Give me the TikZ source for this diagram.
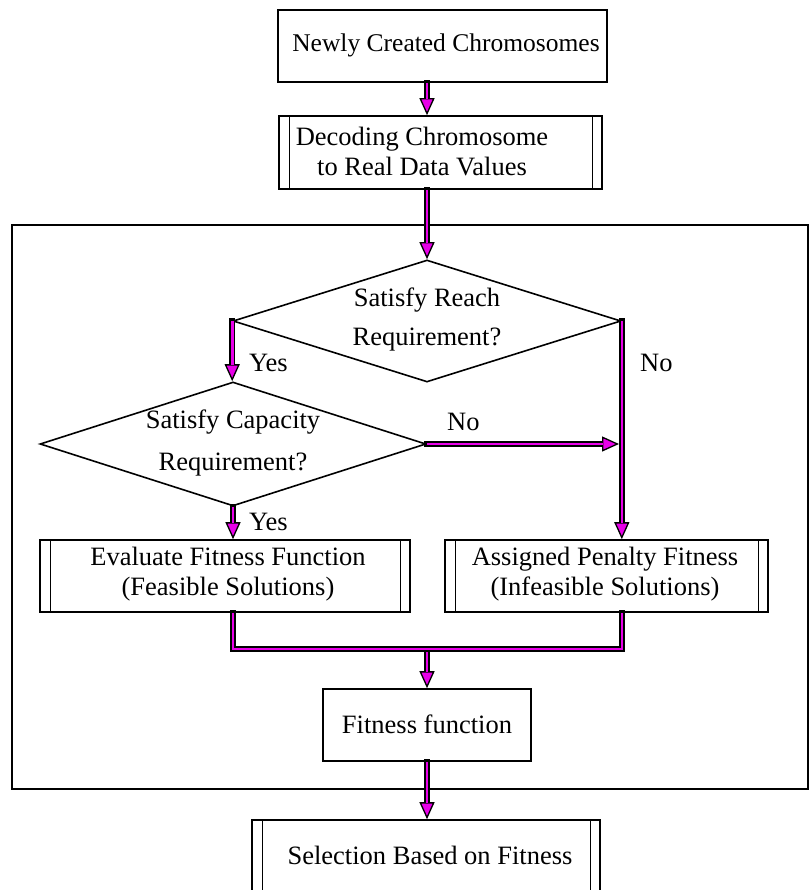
\documentclass[tikz,border=0pt]{standalone}
\usepackage{fontspec}
\setmainfont{Liberation Serif}
\usetikzlibrary{shapes.geometric,arrows.meta,calc}

\definecolor{pipefill}{RGB}{232,0,232}

\tikzset{
  lbl/.style={font=\fontsize{26.5}{30}\selectfont, align=center, inner sep=0pt},
  box/.style={draw, line width=1.6pt, rectangle, inner sep=0pt},
  procbox/.style={box, path picture={
      \draw[line width=0.9pt]
        ([xshift=10pt]path picture bounding box.north west) --
        ([xshift=10pt]path picture bounding box.south west)
        ([xshift=-10pt]path picture bounding box.north east) --
        ([xshift=-10pt]path picture bounding box.south east);}},
  decision/.style={draw, diamond, line width=1.6pt, inner sep=0pt},
  frame/.style={draw, line width=1.8pt, rectangle, inner sep=0pt},
  pipe/.style={draw=black, line width=5.6pt, line cap=rect,
    -{Triangle[length=17pt,width=15pt,line width=1.3pt,fill=pipefill]},
    postaction={draw=pipefill, line width=2.6pt, line cap=butt, -, shorten >=16pt}},
  pipeline/.style={draw=black, line width=5.6pt, line join=miter, line cap=rect,
    postaction={draw=pipefill, line width=2.6pt, line join=miter, line cap=butt}},
}

\begin{document}
\begin{tikzpicture}[x=1pt,y=-1pt]
\useasboundingbox (0,0) rectangle (810,890);
\clip (0,0) rectangle (810,890);

% outer frame around the evaluation stage
\node[frame, minimum width=796pt, minimum height=564pt] (frame) at (410,507) {};

% boxes
\node[box, minimum width=329pt, minimum height=72pt] (top) at (442.5,46) {};
\node[lbl, font=\fontsize{25.5}{30}\selectfont] (toptxt) at (446,45) {Newly Created Chromosomes};

\node[procbox, minimum width=323pt, minimum height=73pt] (dec) at (440.5,152.5) {};
\node[lbl] (dectxt) at (422,152) {Decoding Chromosome\\to Real Data Values};

\node[decision, minimum width=388pt, minimum height=122pt] (d1) at (427,321) {};
\node[lbl, font=\fontsize{26.5}{39}\selectfont] (d1txt) at (427,319) {Satisfy Reach\\Requirement?};

\node[decision, minimum width=386pt, minimum height=124pt] (d2) at (233,444) {};
\node[lbl, font=\fontsize{26.5}{42}\selectfont] (d2txt) at (233,443) {Satisfy Capacity\\Requirement?};

\node[procbox, minimum width=370pt, minimum height=72pt] (eval) at (225,576) {};
\node[lbl] (evaltxt) at (228,574) {Evaluate Fitness Function\\(Feasible Solutions)};

\node[procbox, minimum width=323pt, minimum height=72pt] (pen) at (606.5,576) {};
\node[lbl] (pentxt) at (605,574) {Assigned Penalty Fitness\\(Infeasible Solutions)};

\node[box, minimum width=208pt, minimum height=72pt] (fit) at (427,725) {};
\node[lbl] (fittxt) at (427,724) {Fitness function};

\node[procbox, minimum width=348pt, minimum height=100pt] (sel) at (426,870) {};
\node[lbl] (seltxt) at (430,855) {Selection Based on Fitness};

% connectors
\coordinate (mergeL) at (233,649);

\draw[pipe] (top.south -| d1.north) -- (d1.north |- dec.north);
\draw[pipe] (d1.north |- dec.south) -- (d1.north);
\draw[pipe] (d1.west) -- (d1.west |- d2.north);
\draw[pipe] (d2.east) -- ([xshift=-2.8pt]d1.east |- d2.east);
\draw[pipe] (d1.east) -- (d1.east |- pen.north);
\draw[pipe] (d2.south) -- (d2.south |- eval.north);
\draw[pipe] (mergeL -| d1.south) -- (d1.south |- fit.north);
\draw[pipeline] (d2.south |- eval.south) -- (mergeL) -- (mergeL -| d1.east) -- (d1.east |- pen.south);
\draw[pipe] (fit.south) -- (fit.south |- sel.north);

% branch labels
\node[lbl, anchor=west] (yes1) at (249,363) {Yes};
\node[lbl, anchor=west] (no1) at (640,363) {No};
\node[lbl, anchor=west] (no2) at (447,422) {No};
\node[lbl, anchor=west] (yes2) at (249,522) {Yes};
\end{tikzpicture}
\end{document}
